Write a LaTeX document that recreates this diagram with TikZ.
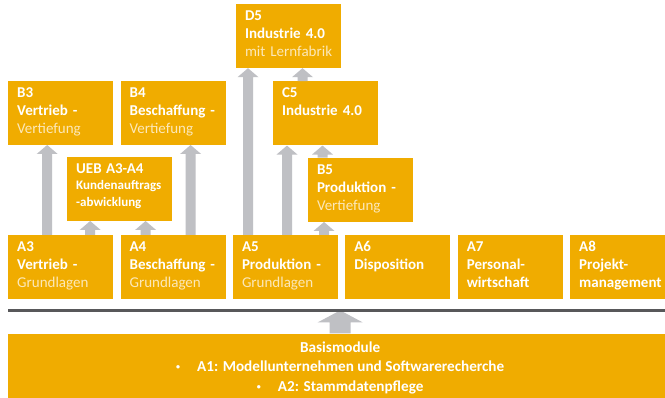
\documentclass[tikz,border=0pt]{standalone}
\usepackage{fontspec}
\setmainfont{Carlito}
\usetikzlibrary{positioning, calc}
\definecolor{gold}{RGB}{240,172,0}
\definecolor{hell}{RGB}{252,232,185}
\definecolor{pfeilgrau}{RGB}{191,192,196}
\definecolor{balken}{RGB}{88,88,90}
\newcommand{\leicht}[1]{{\mdseries\color{hell}\mbox{#1}}}
\newcommand{\punkt}{\raisebox{1.8pt}{\fontsize{8}{8}\selectfont\textbullet}\hspace{17pt}}
% block arrow: start, end (only its y is used), half shaft, half head, head length
\newcommand{\blockpfeil}[5]{\fill[pfeilgrau] let \p1=(#1), \p2=(#2) in
    (\x1-#3,\y1) -- (\x1-#3,\y2-#5) -- (\x1-#4,\y2-#5) -- (\x1,\y2)
    -- (\x1+#4,\y2-#5) -- (\x1+#3,\y2-#5) -- (\x1+#3,\y1) -- cycle;}

\begin{document}
\begin{tikzpicture}[x=1pt, y=1pt, node distance=7pt]
    \tikzstyle{modul}=[fill=gold, text=white, font=\fontsize{15}{18}\selectfont\bfseries, minimum width=105pt, minimum height=64pt, inner xsep=9pt, inner ysep=0pt, text width=87pt, text height=10pt, text depth=41pt, align=left];
    \tikzstyle{basis}=[fill=gold, text=white, font=\fontsize{15.2}{19.5}\selectfont\bfseries, minimum width=664pt, minimum height=68pt, align=center];
    \useasboundingbox[fill=white] (0,0) rectangle (665,-398);

    \node[modul, anchor=north west] (A3) at (8,-235) {A3\\Vertrieb -\\\leicht{Grundlagen}};
    \node[modul, right=of A3] (A4) {A4\\Beschaffung -\\\leicht{Grundlagen}};
    \node[modul, right=of A4] (A5) {A5\\Produktion -\\\leicht{Grundlagen}};
    \node[modul, right=of A5] (A6) {A6\\Disposition};
    \node[modul, right=of A6] (A7) {A7\\Personal-\\wirtschaft};
    \node[modul, right=of A7] (A8) {A8\\Projekt-\\management};
    \node[modul, above=90pt of A3] (B3) {B3\\Vertrieb -\\\leicht{Vertiefung}};
    \node[modul, above=90pt of A4] (B4) {B4\\Beschaffung -\\\leicht{Vertiefung}};
    \node[modul, above=14pt of A3, xshift=59pt, font=\fontsize{13}{16.5}\selectfont\bfseries] (uebA34) {{\fontsize{15}{18}\selectfont UEB A3-A4}\\Kundenauftrags\\-abwicklung};
    \node[modul, above=13pt of A5, xshift=75pt] (B5) {B5\\Produktion -\\\leicht{Vertiefung}};
    \node[modul, above=12pt of B5, xshift=-35pt] (C5) {C5\\Industrie 4.0};
    \node[modul, above=13pt of C5, xshift=-37pt] (D5) {D5\\Industrie 4.0\\\leicht{mit Lernfabrik}};
    \node[basis, below=34pt of A3.south west, anchor=north west] (basis) {Basismodule\\\punkt A1: Modellunternehmen und Softwarerecherche\\\punkt A2: Stammdatenpflege};

    \coordinate[below=11pt of A3.south west] (barL);
    \coordinate (barR) at (barL -| A8.east);

    \blockpfeil{[xshift=-13.5pt]A3.north}{B3.south}{5pt}{10.5pt}{9pt}
    \blockpfeil{[xshift=29.5pt]A3.north}{uebA34.south}{5pt}{10.5pt}{9pt}
    \blockpfeil{[xshift=-27.5pt]A4.north}{uebA34.south}{5pt}{10.5pt}{9pt}
    \blockpfeil{[xshift=17.5pt]A4.north}{B4.south}{5pt}{10.5pt}{9pt}
    \blockpfeil{[xshift=-37.5pt]A5.north}{D5.south}{5pt}{10.5pt}{9pt}
    \blockpfeil{[xshift=1.5pt]A5.north}{C5.south}{5pt}{10.5pt}{9pt}
    \blockpfeil{[xshift=38.5pt]A5.north}{B5.south}{5pt}{10.5pt}{9pt}
    \blockpfeil{[xshift=-38pt]B5.north}{C5.south}{5pt}{10.5pt}{9pt}
    \blockpfeil{[xshift=-23pt]C5.north}{D5.south}{5pt}{10.5pt}{9pt}
    \blockpfeil{basis.north}{barL}{10.5pt}{22.5pt}{12pt}
    \draw[balken, line width=2.5pt] (barL) -- (barR);
\end{tikzpicture}
\end{document}
